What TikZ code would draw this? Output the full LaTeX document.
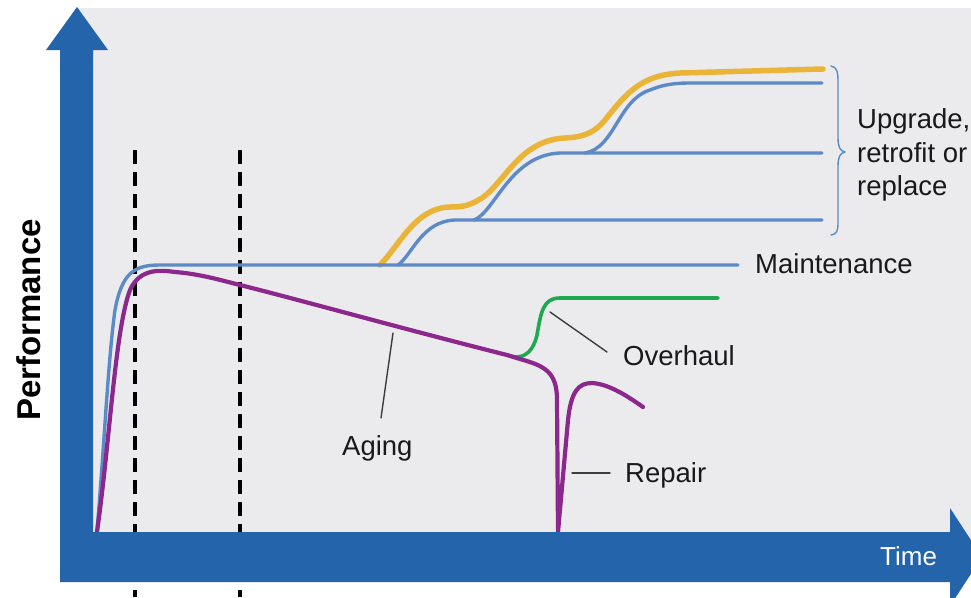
\documentclass[tikz,border=0pt]{standalone}
\usepackage{fontspec}
\setmainfont{Liberation Sans}
\definecolor{axisblue}{RGB}{36,100,170}
\definecolor{curveblue}{RGB}{92,138,198}
\definecolor{agepurple}{RGB}{140,40,140}
\definecolor{ovgreen}{RGB}{30,168,80}
\definecolor{upyellow}{RGB}{233,180,55}
\definecolor{panelgrey}{RGB}{235,235,238}
\definecolor{textdark}{RGB}{25,25,25}
\tikzset{
  lbl/.style={inner sep=0pt, text=textdark, font=\fontsize{27.5}{33}\selectfont},
  bluecurve/.style={draw=curveblue, line width=3.4pt},
  yellowcurve/.style={draw=upyellow, line width=5.5pt},
  agecurve/.style={draw=agepurple, line width=4.2pt},
  greencurve/.style={draw=ovgreen, line width=3.6pt},
  dashline/.style={draw=black, line width=3.2pt, dash pattern=on 14pt off 8pt, line cap=butt},
  leader/.style={draw=textdark!85, line width=1.4pt},
  bracestyle/.style={draw=curveblue, line width=1.4pt},
}
\begin{document}
\begin{tikzpicture}[x=1pt, y=-1pt, line cap=round, line join=round]
\useasboundingbox (0,0) rectangle (971,597);
\clip (0,0) rectangle (971,597);
\fill[white] (0,0) rectangle (971,597);
\fill[panelgrey] (77,8) rectangle (971,557);

% dashed phase lines
\draw[dashline] (135,150) -- (135,597);
\draw[dashline] (240,150) -- (240,597);

% upgrade (yellow)
\draw[yellowcurve] (380,265) .. controls (400,245) and (415,208) .. (450,207)
  .. controls (465,207) and (470,205) .. (482,198)
  .. controls (505,182) and (520,140) .. (565,138)
  .. controls (585,137) and (595,132) .. (605,120)
  .. controls (625,95) and (640,75) .. (680,73) -- (823,69);

% maintenance
\draw[bluecurve] (97,530) .. controls (104,450) and (108,360) .. (115,310)
  .. controls (122,272) and (135,265) .. (160,265) -- (738,265);

% upgrade steps (blue)
\draw[bluecurve] (398,265) .. controls (412,255) and (422,221) .. (455,220) -- (822,220);
\draw[bluecurve] (474,220) .. controls (495,212) and (510,155) .. (560,153) -- (822,153);
\draw[bluecurve] (585,153) .. controls (615,148) and (618,100) .. (650,90)
  .. controls (660,86) and (670,83) .. (690,83) -- (822,83);

% overhaul (green)
\draw[greencurve] (507,355) .. controls (520,360) and (532,356) .. (537,335)
  .. controls (541,312) and (543,298) .. (560,298) -- (718,298);

% aging and repair (purple)
\draw[agecurve] (97,532) .. controls (110,440) and (115,330) .. (130,290)
  .. controls (140,268) and (160,270) .. (175,272)
  .. controls (200,274) and (220,280) .. (240,285)
  .. controls (300,300) and (400,328) .. (507,355)
  -- (520,359) .. controls (545,366) and (557,372) .. (557,400)
  -- (558,532)
  -- (568,420) .. controls (571,392) and (578,383) .. (592,383)
  .. controls (610,384) and (630,398) .. (643,407);

% axes
\fill[axisblue] (60,582) -- (60,50) -- (46,50) -- (77,7) -- (108,50) -- (93,50)
  -- (93,532) -- (950,532) -- (950,508) -- (982,557) -- (950,606) -- (950,582) -- cycle;

% brace
\draw[bracestyle] (831,66) .. controls (837,67) and (838,72) .. (838,82) -- (838,138)
  .. controls (838,147) and (840,151) .. (845,152)
  .. controls (840,153) and (838,157) .. (838,166) -- (838,222)
  .. controls (838,231) and (837,234) .. (831,235);

% labels
\node[lbl, anchor=base west] (up1) at (857,128) {Upgrade,};
\node[lbl, anchor=base west] (up2) at (857,162) {retrofit or};
\node[lbl, anchor=base west] (up3) at (857,195) {replace};
\node[lbl, anchor=base west] (maint) at (755,273) {Maintenance};
\node[lbl, anchor=base west] (overhaul) at (623,365) {Overhaul};
\node[lbl, anchor=base west] (repair) at (625,482) {Repair};
\node[lbl, anchor=base west] (aging) at (342,455) {Aging};
\node[inner sep=0pt, text=white, font=\fontsize{26}{30}\selectfont, anchor=base west] (time) at (880,565) {Time};
\node[inner sep=0pt, text=black, font=\fontsize{33}{38}\bfseries, rotate=90] (perf) at (29,320) {Performance};

% leader lines
\coordinate (ovA) at (550,312);
\coordinate (ovB) at (607,352);
\coordinate (repA) at (572,473);
\coordinate (repB) at (610,473);
\coordinate (agA) at (393,333);
\coordinate (agB) at (381,418);
\draw[leader] (ovA) -- (ovB);
\draw[leader] (repA) -- (repB);
\draw[leader] (agA) -- (agB);
\end{tikzpicture}
\end{document}
